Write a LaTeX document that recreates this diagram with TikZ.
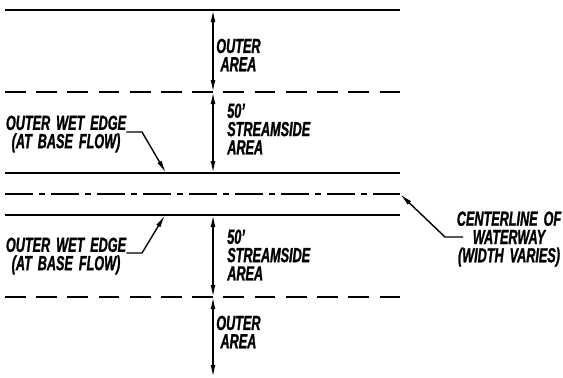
\documentclass[tikz,border=0pt]{standalone}
\usepackage{fontspec}
\setmainfont{Liberation Sans}[FakeStretch=0.62, WordSpace=1.7, FakeBold=1.2]
\usetikzlibrary{arrows.meta, positioning, calc}

\begin{document}
\begin{tikzpicture}[x=0.025cm, y=-0.025cm,
    bank/.style={line width=1.2pt},
    zone/.style={line width=1.2pt, dash pattern=on 0.52cm off 0.26cm},
    axis/.style={line width=1.2pt, dash pattern=on 0.7cm off 0.15cm on 0.15cm off 0.15cm},
    dim/.style={{Latex[length=0.3cm,width=0.12cm]}-{Latex[length=0.3cm,width=0.12cm]}, line width=1pt},
    lead/.style={-{Latex[length=0.32cm,width=0.12cm]}, line width=1pt},
    lbl/.style={font=\fontsize{14.5}{13}\selectfont\bfseries\itshape, inner sep=0pt, align=center}
  ]
  \useasboundingbox (0,0) rectangle (563,377);
  % lines across the waterway
  \coordinate (top w) at (5,10);     \coordinate (top e) at (400,10);
  \coordinate (zup w) at (5,92);     \coordinate (zup e) at (400,92);
  \coordinate (bup w) at (5,173);    \coordinate (bup e) at (400,173);
  \coordinate (axis w) at (5,194);   \coordinate (axis e) at (400,194);
  \coordinate (blo w) at (5,215);    \coordinate (blo e) at (400,215);
  \coordinate (zlo w) at (5,297);    \coordinate (zlo e) at (400,297);
  \draw[bank] (top w) -- (top e);
  \draw[zone] (zup w) -- (zup e);
  \draw[bank] (bup w) -- (bup e);
  \draw[axis] (axis w) -- (axis e);
  \draw[bank] (blo w) -- (blo e);
  \draw[zone] (zlo w) -- (zlo e);
  % dimension line
  \coordinate (d0) at (213,10);
  \coordinate (d1) at (213,92);
  \coordinate (d2) at (213,173);
  \coordinate (d3) at (213,215);
  \coordinate (d4) at (213,297);
  \coordinate (d5) at (213,377);
  \draw[dim] (d0) -- (d1);
  \draw[dim] (d1) -- (d2);
  \draw[dim] (d3) -- (d4);
  \draw[dim] (d4) -- (d5);
  % zone labels
  \node[lbl, anchor=west] (outer up) at (216,55) {OUTER\\AREA};
  \node[lbl, align=left, anchor=west] (strm up) at (227,129) {50'\\STREAMSIDE\\AREA};
  \node[lbl, align=left, anchor=west] (strm lo) at (227,255) {50'\\STREAMSIDE\\AREA};
  \node[lbl, anchor=west] (outer lo) at (216,332) {OUTER\\AREA};
  % wet edge labels
  \node[lbl] (wet up) at (66,134) {OUTER WET EDGE\\(AT BASE FLOW)};
  \node[lbl] (wet lo) at (66,256) {OUTER WET EDGE\\(AT BASE FLOW)};
  \coordinate (kink up) at (142,132);  \coordinate (tip up) at (166,173);
  \coordinate (kink lo) at (142,253);  \coordinate (tip lo) at (165,215);
  \draw[lead] (wet up.east |- kink up) -- (kink up) -- (tip up);
  \draw[lead] (wet lo.east |- kink lo) -- (kink lo) -- (tip lo);
  % centerline label
  \node[lbl] (cl) at (509,239) {CENTERLINE OF\\WATERWAY\\(WIDTH VARIES)};
  \coordinate (cl start) at (463,237);
  \coordinate (kink cl) at (445,237);
  \draw[lead] (cl start) -- (kink cl) -- (axis e);
\end{tikzpicture}
\end{document}
